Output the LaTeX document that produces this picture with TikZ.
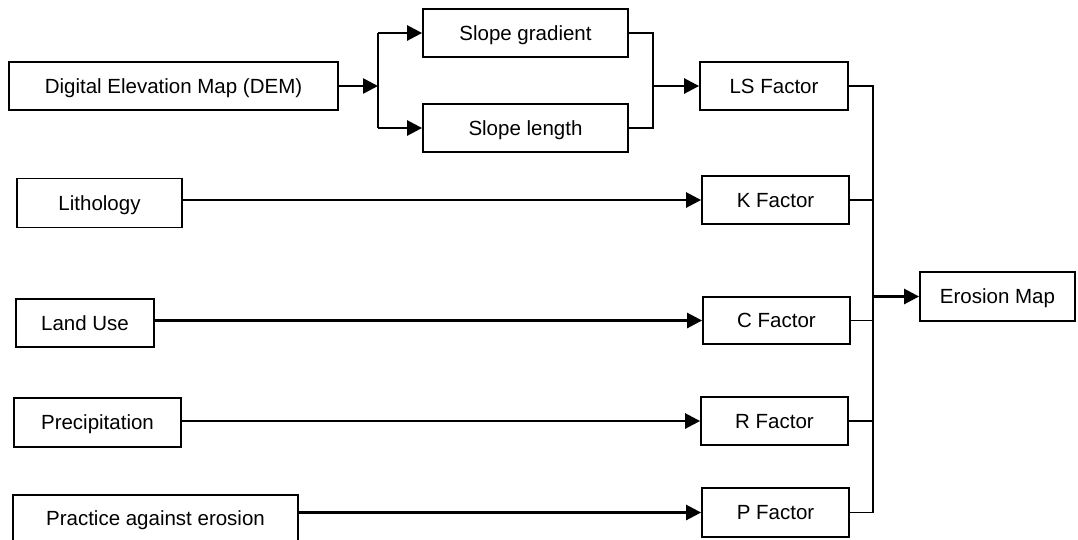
\documentclass[tikz,border=0pt]{standalone}
\usepackage{fontspec}
\setmainfont{Liberation Sans}
\usetikzlibrary{arrows.meta}
\begin{document}
\begin{tikzpicture}[x=1pt,y=-1pt,
  box/.style={draw=black,line width=1.8pt,inner sep=0pt,align=center,
    text height=14.7pt,text depth=0pt,
    font=\fontsize{20.5}{24}\selectfont},
  arr/.style={line width=2.6pt,-{Triangle[length=15pt,width=15pt]}},
  plain/.style={line width=1.7pt}]
\clip (0,0) rectangle (1078,539);
\fill[white] (0,0) rectangle (1078,539);
% nodes
\node[box,minimum width=329pt,minimum height=48pt] (dem) at (173.5,86) {Digital Elevation Map (DEM)};
\node[box,minimum width=205pt,minimum height=48pt] (sg) at (525.5,33) {Slope gradient};
\node[box,minimum width=205pt,minimum height=48pt] (sl) at (525.5,128) {Slope length};
\node[box,minimum width=148pt,minimum height=48pt] (ls) at (774,86) {LS Factor};
\node[box,minimum width=147pt,minimum height=48pt] (k) at (775.5,200) {K Factor};
\node[box,minimum width=147pt,minimum height=47pt] (c) at (776.5,320.5) {C Factor};
\node[box,minimum width=147pt,minimum height=48pt] (r) at (774.5,421) {R Factor};
\node[box,minimum width=147pt,minimum height=49pt] (p) at (775.5,512.5) {P Factor};
\node[box,minimum width=155pt,minimum height=49pt] (em) at (997.5,296.5) {Erosion Map};
\node[box,minimum width=165pt,minimum height=49pt] (lith) at (99.5,203) {Lithology};
\node[box,minimum width=138pt,minimum height=48pt] (land) at (85,323) {Land Use};
\node[box,minimum width=167pt,minimum height=49pt] (prec) at (97.5,422.5) {Precipitation};
\node[box,minimum width=285pt,minimum height=47pt] (prac) at (155.5,518.5) {Practice against erosion};
% junctions
\coordinate (b1) at (378,86);
\coordinate (j1) at (653,86);
\coordinate (bx) at (873,296.5);
% DEM branch
\draw[arr] (dem.east) -- (b1);
\draw[plain,line width=2.2pt] (b1 |- sg.west) -- (b1 |- sl.west);
\draw[arr] (b1 |- sg.west) -- (sg.west);
\draw[arr] (b1 |- sl.west) -- (sl.west);
% slope join
\draw[plain] (sg.east) -| (j1);
\draw[plain] (sl.east) -| (j1);
\draw[arr] (j1) -- (ls.west);
% inputs
\draw[arr] (lith.east |- k.west) -- (k.west);
\draw[arr] (land.east |- c.west) -- (c.west);
\draw[arr] (prec.east |- r.west) -- (r.west);
\draw[arr] (prac.east |- p.west) -- (p.west);
% bus
\draw[plain] (ls.east) -| (bx);
\draw[plain] (p.east) -| (bx);
\draw[plain] (k.east) -- (k.east -| bx);
\draw[plain] (c.east) -- (c.east -| bx);
\draw[plain] (r.east) -- (r.east -| bx);
\draw[arr] (bx) -- (em.west);
\end{tikzpicture}
\end{document}
